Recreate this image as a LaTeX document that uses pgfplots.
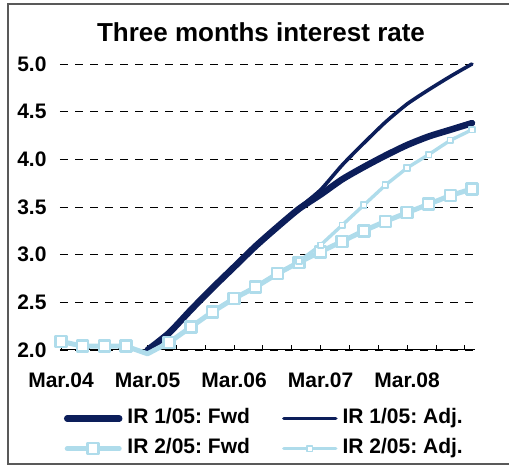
\documentclass[border=0pt]{standalone}
\usepackage{fontspec}
\setmainfont{Liberation Sans}
\usepackage{pgfplots}
\pgfplotsset{compat=1.18}
\usepackage{pgfplotstable}

\definecolor{navy}{RGB}{12,30,90}
\definecolor{lblue}{RGB}{175,220,235}

% month index: 0 = Mar.04, quarterly points
\pgfplotstableread{
m v
12 2.00
15 2.18
18 2.42
21 2.65
24 2.87
27 3.09
30 3.29
33 3.48
36 3.63
39 3.79
42 3.92
45 4.04
48 4.15
51 4.24
54 4.31
57 4.38
}\fwdA
\pgfplotstableread{
m v
12 2.00
15 2.18
18 2.42
21 2.65
24 2.87
27 3.09
30 3.29
33 3.49
36 3.68
39 3.94
42 4.17
45 4.39
48 4.58
51 4.73
54 4.87
57 5.00
}\adjA
\pgfplotstableread{
m v
0 2.09
3 2.04
6 2.04
9 2.04
12 1.96
15 2.08
18 2.24
21 2.40
24 2.54
27 2.66
30 2.80
33 2.92
36 3.03
39 3.14
42 3.25
45 3.35
48 3.44
51 3.53
54 3.62
57 3.69
}\fwdB
\pgfplotstableread{
m v
30 2.80
33 2.93
36 3.10
39 3.31
42 3.52
45 3.73
48 3.91
51 4.05
54 4.20
57 4.31
}\adjB

\newcommand{\lbl}{\fontsize{21}{25}\selectfont\bfseries}

\begin{document}
\frenchspacing
\begin{tikzpicture}
\path[use as bounding box] (0,0) rectangle (509pt,466pt);
\draw[line width=1.5pt, black!65] (509pt,462pt) -- (8pt,462pt) -- (8pt,2pt) -- (509pt,2pt);
\node[anchor=base, font=\fontsize{26}{30}\selectfont\bfseries] at (261pt,424pt) {Three months interest rate};

\begin{axis}[
    at={(60pt,116pt)}, anchor=south west,
    scale only axis, width=415pt, height=286pt,
    xmin=-0.14, xmax=57.42, ymin=2, ymax=5,
    clip=false,
    axis x line*=bottom, axis y line*=left,
    y axis line style={draw=none},
    x axis line style={black, line width=1pt},
    xtick={0,12,24,36,48},
    xticklabels={Mar.04,Mar.05,Mar.06,Mar.07,Mar.08},
    minor xtick={4,8,16,20,28,32,40,44,52,56},
    tick align=inside,
    major tick length=5pt, minor tick length=5pt,
    xtick style={black, line width=0.8pt},
    ytick={2,2.5,...,5},
    ytick style={draw=none},
    ymajorgrids,
    major grid style={black, line width=0.9pt, dash pattern=on 7.5pt off 7.5pt},
    /pgf/number format/assume math mode=true,
    yticklabel={\pgfmathprintnumber[fixed,fixed zerofill,precision=1]{\tick}},
    tick label style={font=\lbl},
    yticklabel style={xshift=-10pt},
    xticklabel style={yshift=-19pt},
    legend columns=2,
    legend style={draw=none, fill=none, inner sep=0pt, outer sep=0pt,
        at={(0.0096,-0.205)}, anchor=north west,
        nodes={inner sep=0pt, text height=15pt, text depth=5pt, font=\lbl},
        row sep=10pt,
        /tikz/every odd column/.append style={column sep=5pt},
        /tikz/every even column/.append style={column sep=32pt}},
    legend image code/.code={\draw[mark indices={2}] plot coordinates {(0pt,0pt) (26pt,0pt) (52pt,0pt)};},
]
\addplot[navy, line width=6.5pt, line cap=round, line join=round, smooth, tension=0.4] table[x=m,y=v] {\fwdA};
\addlegendentry{IR 1/05: Fwd}
\addplot[navy, line width=3.6pt, line cap=round, line join=round, smooth, tension=0.4] table[x=m,y=v] {\adjA};
\addlegendentry{IR 1/05: Adj.}
\addplot[lblue, line width=5pt, line cap=round, line join=round, mark=square*, mark size=5.5pt,
    mark options={fill=white, draw=lblue, line width=2.5pt},
    mark indices={1,2,3,4,6,7,8,9,10,11,12,13,14,15,16,17,18,19,20}] table[x=m,y=v] {\fwdB};
\addlegendentry{IR 2/05: Fwd}
\addplot[lblue, line width=3.4pt, line cap=round, line join=round, mark=square*, mark size=2.8pt,
    mark options={fill=white, draw=lblue, line width=1.6pt},
    mark indices={2,3,4,5,6,7,8,9,10}] table[x=m,y=v] {\adjB};
\addlegendentry{IR 2/05: Adj.}
\end{axis}
\end{tikzpicture}
\end{document}
